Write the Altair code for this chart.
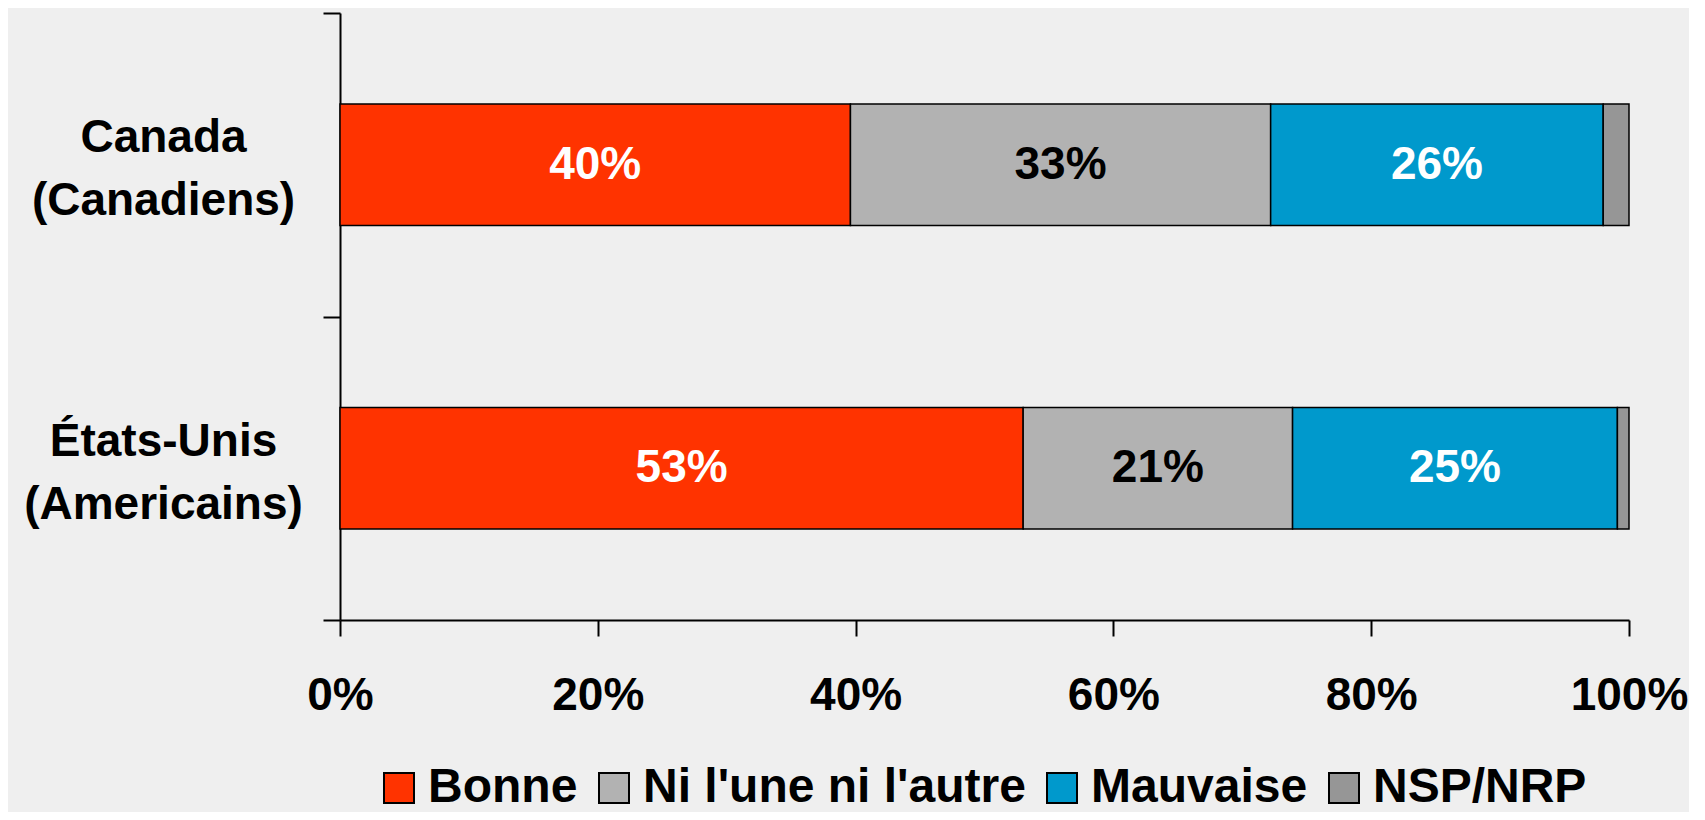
import altair as alt
import pandas as pd

# Data
countries = ["Canada|(Canadiens)", "États-Unis|(Americains)"]
categories = ["Bonne", "Ni l'une ni l'autre", "Mauvaise", "NSP/NRP"]
canada_values = [39.6, 32.6, 25.8, 2.0]
usa_values = [53.0, 20.9, 25.2, 0.9]
colors = ["#FF3300", "#B2B2B2", "#0099CC", "#969696"]
label_colors = ["white", "black", "white", "none"]
x_ticks = [0, 20, 40, 60, 80, 100]

rows = []
for country, vals in zip(countries, [canada_values, usa_values]):
    for i, (cat, v) in enumerate(zip(categories, vals)):
        rows.append({"pays": country, "cat": cat, "valeur": v, "ordre": i,
                     "tcol": label_colors[i]})
df = pd.DataFrame(rows)

FONT = "Liberation Sans"

y_enc = alt.Y(
    "pays:N",
    sort=countries,
    title=None,
    scale=alt.Scale(paddingInner=0, paddingOuter=0),
    axis=alt.Axis(
        labelExpr="split(datum.label, '|')",
        labelFont=FONT, labelFontSize=46, labelFontWeight="bold", labelColor="black",
        labelAlign="center", labelBaseline="middle", labelLineHeight=63,
        labelOffset=-27,
        labelPadding=160, labelLimit=1000, tickBand="extent", tickSize=17, tickWidth=2,
        tickColor="black", domainColor="black", domainWidth=2, grid=False,
    ),
)

x_enc = alt.X(
    "valeur:Q",
    stack="zero",
    title=None,
    scale=alt.Scale(domain=[0, 100], nice=False),
    axis=alt.Axis(
        values=x_ticks, labelExpr="datum.value + '%'",
        labelFont=FONT, labelFontSize=46, labelFontWeight="bold", labelColor="black",
        labelPadding=37, labelFlush=False, labelOverlap=False,
        tickSize=16, tickWidth=2, tickColor="black",
        domainColor="black", domainWidth=2, grid=False,
    ),
)

bars = alt.Chart(df).mark_bar(
    height=alt.RelativeBandSize(0.4), stroke="black", strokeWidth=1.5
).encode(
    y=y_enc,
    x=x_enc,
    color=alt.Color(
        "cat:N",
        sort=categories,
        scale=alt.Scale(domain=categories, range=colors),
        legend=alt.Legend(
            title=None, orient="none", direction="horizontal",
            legendX=35, legendY=751,
            symbolType="square", symbolSize=900, symbolStrokeColor="black",
            symbolStrokeWidth=2, symbolOpacity=1,
            labelFont=FONT, labelFontSize=48, labelFontWeight="bold",
            labelColor="black", labelOffset=5, columnPadding=12, padding=0,
            labelLimit=1000,
        ),
    ),
    order=alt.Order("ordre:Q"),
)

texts = alt.Chart(df).transform_stack(
    stack="valeur", groupby=["pays"], as_=["x0", "x1"],
    sort=[alt.SortField("ordre", order="ascending")],
).transform_calculate(
    mid="(datum.x0 + datum.x1) / 2",
    lab="round(datum.valeur) + '%'",
).transform_filter(
    "datum.cat != 'NSP/NRP'"
).mark_text(
    font=FONT, fontSize=46, fontWeight="bold", baseline="middle", align="center"
).encode(
    y=alt.Y("pays:N", sort=countries),
    x=alt.X("mid:Q"),
    text="lab:N",
    color=alt.Color("tcol:N", scale=None),
)

chart = alt.layer(bars, texts).properties(
    width=1289, height=607,
    autosize=alt.AutoSizeParams(type="none"),
    padding={"left": 332, "top": 5, "right": 60, "bottom": 192},
    background="#efefef",
).configure_view(stroke=None)

chart.save("out.html", embed_options={"renderer": "svg", "actions": False})
